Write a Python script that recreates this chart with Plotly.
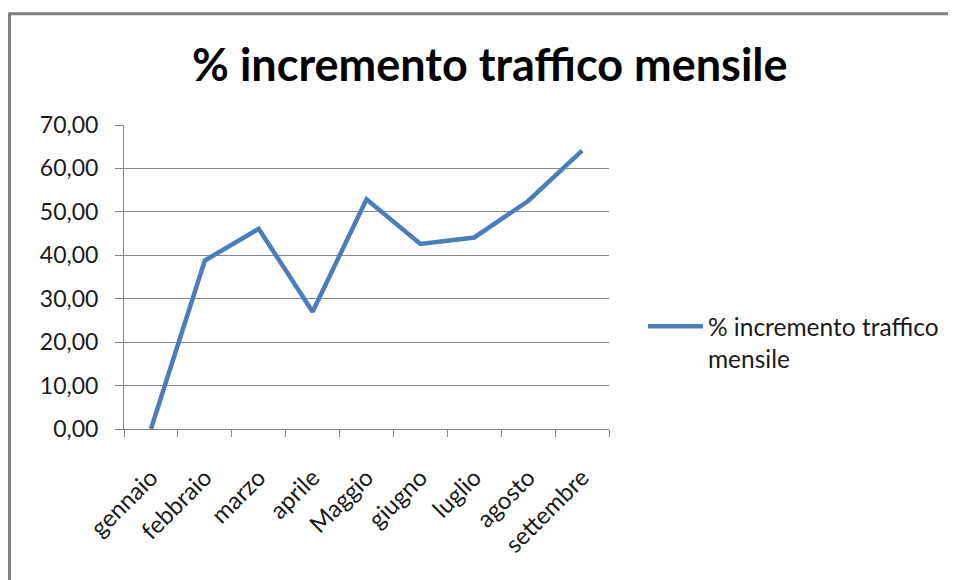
import plotly.graph_objects as go

months = ["gennaio", "febbraio", "marzo", "aprile", "Maggio", "giugno", "luglio", "agosto", "settembre"]
incremento = [0.0, 38.8, 46.1, 27.0, 52.9, 42.6, 44.1, 52.5, 64.1]
series_name = "% incremento traffico<br>mensile"
title_text = "% incremento traffico mensile"

FONT = "Lato, Open Sans, sans-serif"
GRID = "#868686"

fig = go.Figure()
fig.add_trace(go.Scatter(
    x=months, y=incremento, mode="lines", name=series_name,
    line=dict(color="#4A7EBB", width=4.5),
))

fig.update_layout(
    width=956, height=580,
    margin=dict(l=116, r=355, t=117, b=159),
    paper_bgcolor="white", plot_bgcolor="white",
    separators=",.",
    title=dict(text=title_text, x=0.504, xanchor="center", y=1 - 57 / 580, yanchor="middle",
               font=dict(family=FONT, size=45, color="black", weight="bold")),
    showlegend=True,
    legend=dict(x=1.07, xanchor="left", y=0.412, yanchor="top", valign="top",
                itemwidth=55, font=dict(family=FONT, size=24.5, color="#1a1a1a"),
                bgcolor="rgba(0,0,0,0)"),
    font=dict(family=FONT, size=23, color="#1a1a1a"),
)

fig.update_xaxes(type="category", tickson="boundaries", ticks="outside", ticklen=7,
                 tickcolor=GRID, showline=True, linecolor=GRID, linewidth=1,
                 showgrid=False, tickangle=-45, tickfont=dict(family=FONT, size=24),
                 ticklabelstandoff=24,
                 range=[-0.5, 8.5], fixedrange=True)
fig.update_yaxes(range=[0, 70], dtick=10, tickformat=".2f", ticks="outside", ticklen=8,
                 tickcolor=GRID, showline=True, linecolor=GRID, linewidth=1,
                 showgrid=True, gridcolor=GRID, gridwidth=1, zeroline=False,
                 ticklabelstandoff=12, tickfont=dict(family=FONT, size=23))

fig.add_shape(type="rect", xref="paper", yref="paper",
              x0=-0.236, x1=1.8, y0=-0.7, y1=1.366,
              line=dict(color="#7f7f7f", width=3), fillcolor="rgba(0,0,0,0)", layer="below")

fig.write_html("out.html")
